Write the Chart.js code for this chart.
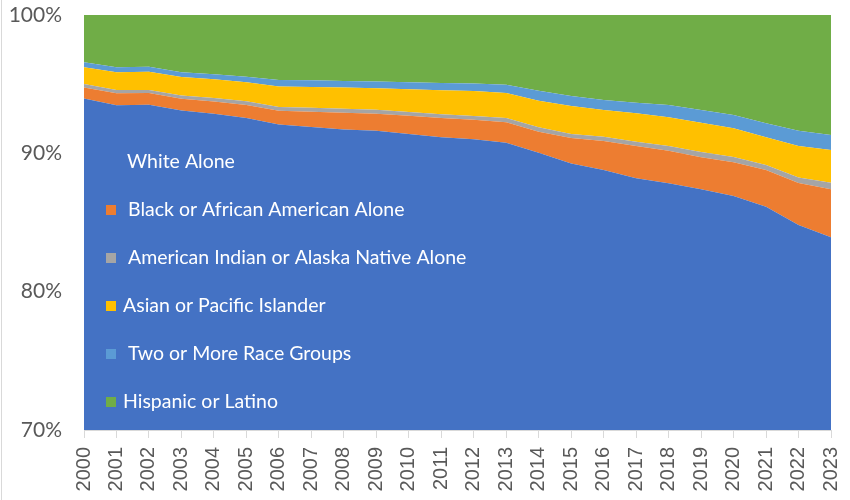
<!DOCTYPE html>
<html>
<head>
<meta charset="utf-8">
<script src="https://cdn.jsdelivr.net/npm/chart.js@4.4.1/dist/chart.umd.min.js"></script>
<style>
  html, body { margin: 0; padding: 0; background: #fff; }
  canvas { display: block; }
</style>
</head>
<body>
<canvas id="chart-race" width="850" height="500"></canvas>
<script>
const years = ["2000", "2001", "2002", "2003", "2004", "2005", "2006", "2007", "2008", "2009", "2010", "2011",
  "2012", "2013", "2014", "2015", "2016", "2017", "2018", "2019", "2020", "2021", "2022", "2023"];

// share of total, in percent
const white = [93.97, 93.47, 93.52, 93.10, 92.87, 92.55, 92.08, 91.90, 91.73, 91.63, 91.40, 91.16,
  91.01, 90.77, 90.04, 89.27, 88.79, 88.19, 87.83, 87.40, 86.91, 86.14, 84.82, 83.93];
const black = [0.79, 0.87, 0.84, 0.85, 0.88, 0.95, 0.99, 1.11, 1.21, 1.23, 1.31, 1.40,
  1.42, 1.48, 1.52, 1.83, 2.11, 2.34, 2.36, 2.31, 2.44, 2.65, 3.03, 3.47];
const aian = [0.25, 0.24, 0.22, 0.23, 0.25, 0.26, 0.28, 0.29, 0.28, 0.29, 0.27, 0.27,
  0.27, 0.31, 0.32, 0.30, 0.30, 0.31, 0.34, 0.38, 0.39, 0.36, 0.41, 0.47];
const asian = [1.21, 1.28, 1.32, 1.34, 1.35, 1.37, 1.49, 1.50, 1.54, 1.56, 1.66, 1.73,
  1.81, 1.80, 1.92, 2.02, 1.93, 2.05, 2.07, 2.12, 2.07, 2.01, 2.27, 2.37];
const twoOrMore = [0.36, 0.36, 0.36, 0.34, 0.36, 0.41, 0.46, 0.48, 0.46, 0.49, 0.49, 0.52,
  0.53, 0.59, 0.73, 0.72, 0.72, 0.77, 0.89, 0.92, 0.96, 1.01, 1.11, 1.08];
const hispanic = [3.42, 3.78, 3.74, 4.14, 4.29, 4.46, 4.70, 4.72, 4.78, 4.80, 4.87, 4.92,
  4.96, 5.05, 5.47, 5.86, 6.15, 6.34, 6.51, 6.87, 7.23, 7.83, 8.36, 8.68];

const yTicks = [70, 80, 90, 100];

const series = [
  { label: "White Alone", data: white, color: "#4472C4" },
  { label: "Black or African American Alone", data: black, color: "#ED7D31" },
  { label: "American Indian or Alaska Native Alone", data: aian, color: "#A5A5A5" },
  { label: "Asian or Pacific Islander", data: asian, color: "#FFC000" },
  { label: "Two or More Race Groups", data: twoOrMore, color: "#5B9BD5" },
  { label: "Hispanic or Latino", data: hispanic, color: "#70AD47" },
];

// thin frame line down the left edge of the chart box
const frameEdge = {
  id: "frameEdge",
  beforeDraw(chart) {
    const ctx = chart.ctx;
    ctx.save();
    ctx.strokeStyle = "#d9d9d9";
    ctx.lineWidth = 1;
    ctx.beginPath();
    ctx.moveTo(1.5, 0);
    ctx.lineTo(1.5, chart.height);
    ctx.stroke();
    ctx.restore();
  },
};

// legend sits inside the plot, white text over the blue area
const insideLegend = {
  id: "insideLegend",
  afterDatasetsDraw(chart) {
    const ctx = chart.ctx;
    const textX = [127, 128, 128, 123, 128, 123];
    ctx.save();
    ctx.font = "19.5px Lato";
    ctx.textBaseline = "middle";
    chart.data.datasets.forEach((ds, i) => {
      const y = 162 + i * 48;
      ctx.fillStyle = ds.backgroundColor;
      ctx.fillRect(106, y - 5, 10, 10);
      ctx.fillStyle = "#ffffff";
      ctx.fillText(ds.label, textX[i], y);
    });
    ctx.restore();
  },
};

const ctx = document.getElementById("chart-race").getContext("2d");
const chart = new Chart(ctx, {
  type: "line",
  data: {
    labels: years,
    datasets: series.map((s, i) => ({
      label: s.label,
      data: s.data,
      backgroundColor: s.color,
      borderColor: s.color,
      borderWidth: 0,
      pointRadius: 0,
      tension: 0,
      fill: i === 0 ? "start" : "-1",
    })),
  },
  options: {
    responsive: false,
    animation: false,
    layout: { padding: { top: 15, right: 19, left: 0, bottom: 0 } },
    plugins: {
      legend: { display: false },
      tooltip: { enabled: false },
    },
    scales: {
      x: {
        offset: false,
        grid: {
          drawOnChartArea: false,
          drawTicks: true,
          tickLength: 8,
          color: "#d9d9d9",
        },
        border: { display: true, color: "#d9d9d9" },
        ticks: {
          autoSkip: false,
          minRotation: 90,
          maxRotation: 90,
          padding: 9,
          color: "#595959",
          font: { family: "Liberation Sans", size: 20 },
        },
        afterFit: (scale) => {
          scale.height = 70;
          scale.paddingLeft = 0;
          scale.paddingRight = 0;
        },
      },
      y: {
        stacked: true,
        min: 70,
        max: 100,
        afterBuildTicks: (scale) => {
          scale.ticks = yTicks.map((v) => ({ value: v }));
        },
        grid: { color: "#d9d9d9", drawTicks: false },
        border: { display: false },
        ticks: {
          padding: 22,
          color: "#595959",
          font: { family: "Lato", size: 21 },
          callback: (v) => v + "%",
        },
        afterFit: (scale) => {
          scale.width = 84;
          scale.paddingTop = 0;
          scale.paddingBottom = 0;
        },
      },
    },
  },
  plugins: [frameEdge, insideLegend],
});
</script>
</body>
</html>
